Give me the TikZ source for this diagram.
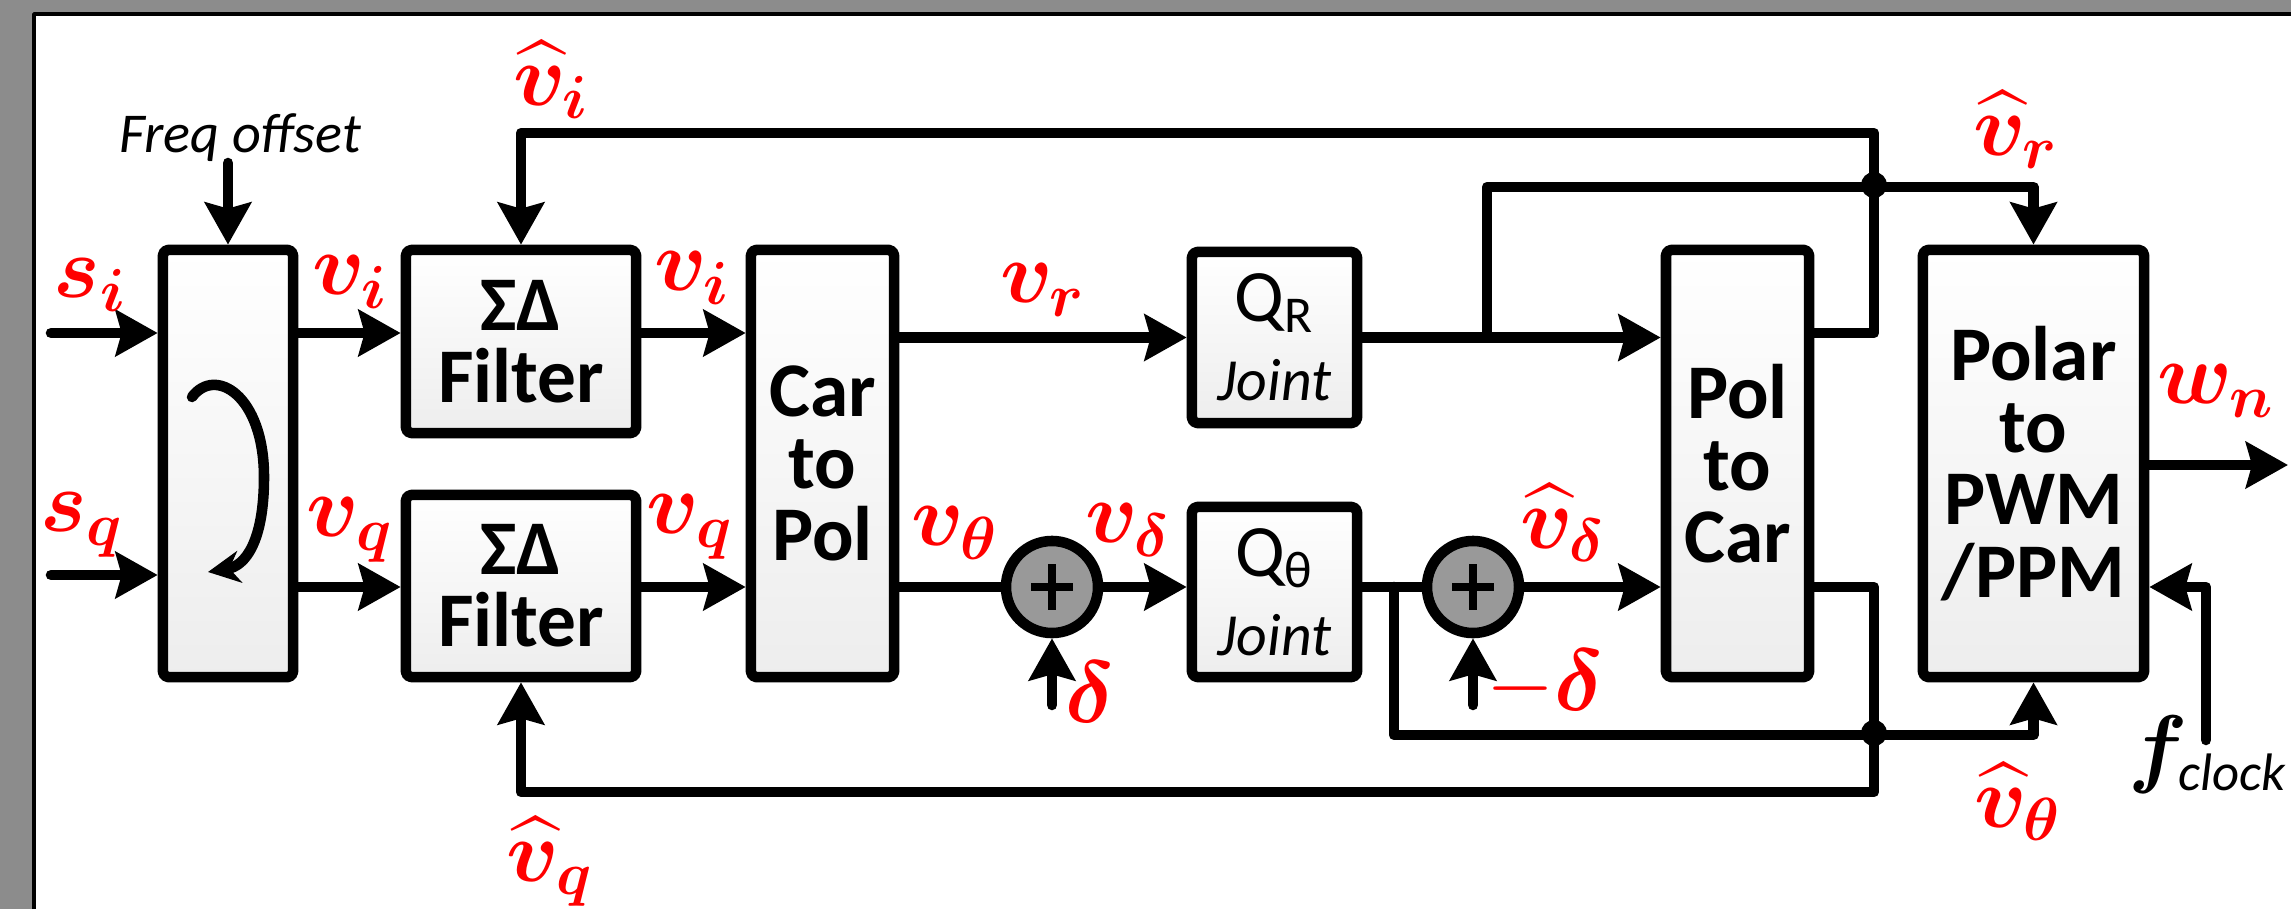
\documentclass[tikz,border=0pt]{standalone}
\usepackage{amsmath,bm}
\usepackage{fontspec}
\setmainfont{Carlito}
\usepackage{tikz}
\usetikzlibrary{arrows.meta,positioning,calc}
\definecolor{framegray}{RGB}{140,140,140}
\definecolor{sigred}{RGB}{255,0,0}

\begin{document}
\begin{tikzpicture}[x=0.01cm,y=-0.01cm,line width=3pt,line join=round,line cap=round,
  blk/.style={draw,line width=3pt,rounded corners=1.5pt,top color=white,bottom color=black!7,
    align=center,inner sep=0pt,font=\fontsize{22}{20.5}\selectfont\bfseries},
  qblk/.style={blk,font=\fontsize{17}{22.5}\selectfont},
  summ/.style={draw,circle,fill=black!40,minimum size=0.92cm,inner sep=0pt},
  arr/.style={-{Stealth[length=0.42cm,width=0.46cm,inset=0.06cm]}},
  lbl/.style={text=sigred,font=\fontsize{24}{26}\selectfont,inner sep=0pt}]
\useasboundingbox (0,0) rectangle (2291,909);
% frame
\fill[framegray] (0,0) rectangle (2291,909);
\fill[white] (34,14) rectangle (2291,909);
\draw[line width=1pt,line cap=butt] (34,909) -- (34,14) -- (2291,14);

\coordinate (rowa) at (0,333);
\coordinate (rowb) at (0,587);

% blocks
\node[blk,minimum width=1.30cm,minimum height=4.27cm] (rot) at (228,463.5) {};
\node[blk,minimum width=2.30cm,minimum height=1.83cm] (sdi) at (521,341.5) {ΣΔ\\Filter};
\node[blk,minimum width=2.30cm,minimum height=1.82cm] (sdq) at (521,586) {ΣΔ\\Filter};
\node[blk,minimum width=1.43cm,minimum height=4.27cm] (c2p) at (822.5,463.5) {Car\\to\\Pol};
\node[qblk,minimum width=1.65cm,minimum height=1.71cm] (qr) at (1274.5,337.5) {{\fontsize{21}{22.5}\selectfont Q\textsubscript{R}}\\\textit{Joint}};
\node[qblk,minimum width=1.65cm,minimum height=1.70cm] (qth) at (1274.5,592) {{\fontsize{21}{22.5}\selectfont Q\textsubscript{θ}}\\\textit{Joint}};
\node[summ] (sum1) at (1052,587) {};
\node[summ] (sum2) at (1473,587) {};
\node[blk,minimum width=1.43cm,minimum height=4.27cm] (p2c) at (1737.5,463.5) {Pol\\to\\Car};
\node[blk,minimum width=2.21cm,minimum height=4.27cm] (pwm) at (2033.5,463.5) {Polar\\to\\PWM\\/PPM};

\foreach \s in {sum1,sum2}
  \draw[line width=2.3pt,line cap=butt] ($(\s)+(-21,0)$) -- ($(\s)+(21,0)$) ($(\s)+(0,-23)$) -- ($(\s)+(0,23)$);

% rotation arrow
\draw[line width=3pt,-{Stealth[length=0.32cm,width=0.32cm]}] (192,397) .. controls (215,366) and (264,395) .. (264,477)
  .. controls (264,542) and (245,566) .. (208,572);

% free ends
\coordinate (si) at (51,333);
\coordinate (sq) at (51,575);
\coordinate (fo) at (228,163);
\coordinate (din) at (1052,705);
\coordinate (mdin) at (1473,705);
\coordinate (brr) at (1487,187);
\coordinate (brt) at (1394,735);
\coordinate (fbtop) at (1874,133);
\coordinate (fbbot) at (1874,792);
\coordinate (wout) at (2288,465);
\coordinate (fck) at (2206,740);

% forward path
\draw[arr] (si) -- (rot.west |- si);
\draw[arr] (sq) -- (rot.west |- sq);
\draw[arr] (fo) -- (rot.north);
\draw[arr] (rot.east |- rowa) -- (sdi.west |- rowa);
\draw[arr] (rot.east |- rowb) -- (sdq.west |- rowb);
\draw[arr] (sdi.east |- rowa) -- (c2p.west |- rowa);
\draw[arr] (sdq.east |- rowb) -- (c2p.west |- rowb);
\draw[arr] (c2p.east |- qr) -- (qr.west);
\draw (c2p.east |- rowb) -- (sum1.west);
\draw[arr] (sum1.east) -- (qth.west |- sum1);
\draw[arr] (din) -- (sum1.south);
\draw[arr] (qr.east) -- (p2c.west |- qr);
\draw (qth.east |- rowb) -- (sum2.west);
\draw[arr] (mdin) -- (sum2.south);
\draw[arr] (sum2.east) -- (p2c.west |- sum2);
\draw[arr] (pwm.east |- wout) -- (wout);
\draw[arr] (fck) |- (pwm.east |- rowb);

% feedback
\draw[arr] (brr |- qr) -- (brr) -| (pwm.north);
\draw[arr] (brt |- rowb) -- (brt) -| (pwm.south);
\draw[arr] (p2c.east |- rowa) -| (fbtop) -| (sdi.north);
\draw[arr] (p2c.east |- rowb) -| (fbbot) -| (sdq.south);
\fill (1874,185) circle[radius=0.13cm];
\fill (1874,733) circle[radius=0.13cm];

% labels
\node[font=\fontsize{16}{18}\selectfont\itshape] (lfo) at (240,138) {Freq offset};
\node[lbl] (lsi) at (90,285) {$\bm{s}_{\bm{i}}$};
\node[lbl] (lsq) at (82,525) {$\bm{s}_{\bm{q}}$};
\node[lbl] (lvi) at (350,282) {$\bm{v}_{\bm{i}}$};
\node[lbl] (lvq) at (350,530) {$\bm{v}_{\bm{q}}$};
\node[lbl] (lvi2) at (692,278) {$\bm{v}_{\bm{i}}$};
\node[lbl] (lvq2) at (690,527) {$\bm{v}_{\bm{q}}$};
\node[lbl] (lhvi) at (551,80) {$\widehat{\bm{v}}_{\bm{i}}$};
\node[lbl] (lhvq) at (550,862) {$\widehat{\bm{v}}_{\bm{q}}$};
\node[lbl] (lvr) at (1043,290) {$\bm{v}_{\bm{r}}$};
\node[lbl] (lvt) at (955,533) {$\bm{v}_{\bm{\theta}}$};
\node[lbl] (lvd) at (1128,530) {$\bm{v}_{\bm{\delta}}$};
\node[lbl] (ld) at (1090,692) {$\bm{\delta}$};
\node[lbl] (lmd) at (1545,684) {$-\bm{\delta}$};
\node[lbl] (lhvd) at (1563,523) {$\widehat{\bm{v}}_{\bm{\delta}}$};
\node[lbl] (lhvr) at (2016,130) {$\widehat{\bm{v}}_{\bm{r}}$};
\node[lbl] (lhvt) at (2018,802) {$\widehat{\bm{v}}_{\bm{\theta}}$};
\node[lbl] (lwn) at (2216,391) {$\bm{w}_{\bm{n}}$};
\node[font=\fontsize{26}{28}\selectfont,inner sep=0pt] (lfc) at (2208,755) {$\bm{f}_{\text{\fontsize{15}{16}\selectfont\itshape clock}}$};
\end{tikzpicture}
\end{document}
